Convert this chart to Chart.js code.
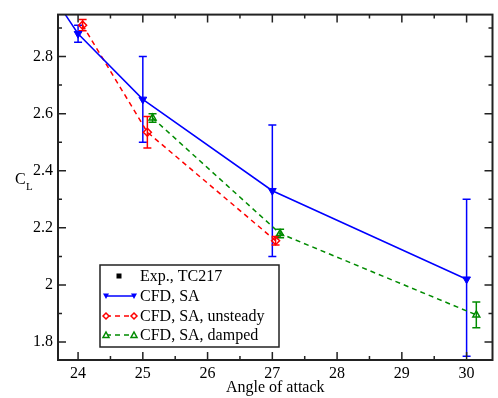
<!DOCTYPE html>
<html>
<head>
<meta charset="utf-8">
<script src="https://cdn.jsdelivr.net/npm/chart.js@4"></script>
<style>
  html, body { margin: 0; padding: 0; background: #fff; }
  #wrap { width: 498px; height: 398px; }
</style>
</head>
<body>
<div id="wrap"><canvas id="clChart" width="498" height="398"></canvas></div>
<script>
// tick labels
const xTicks = [24, 25, 26, 27, 28, 29, 30];
const yTicks = [1.8, 2.0, 2.2, 2.4, 2.6, 2.8];

// Exp., TC217 - nothing visible in the plot range
const expX = [];
const expY = [];

// CFD, SA (first point lies outside the plotted window)
const saX = [23, 24, 25, 27, 30];
const saY = [3.22, 2.88, 2.65, 2.33, 2.02];
const saLow = [null, 2.85, 2.50, 2.10, 1.75];
const saHigh = [null, 2.91, 2.80, 2.56, 2.30];

// CFD, SA, unsteady
const unsX = [24.07, 25.07, 27.05];
const unsY = [2.91, 2.535, 2.155];
const unsLow = [2.89, 2.48, 2.14];
const unsHigh = [2.93, 2.59, 2.17];

// CFD, SA, damped
const dmpX = [25.15, 27.12, 30.15];
const dmpY = [2.585, 2.18, 1.895];
const dmpLow = [2.57, 2.165, 1.85];
const dmpHigh = [2.60, 2.195, 1.94];

const FONT = "'Liberation Serif', 'DejaVu Serif', serif";
const BLUE = "#0000ff";
const RED = "#ff0000";
const GREEN = "#008b00";

function pts(xs, ys) {
  return xs.map((x, i) => ({ x: x, y: ys[i] }));
}

// error bars + frame + inward ticks + legend + y title
const gracePlugin = {
  id: "grace",
  beforeDatasetsDraw(chart) {
    const ctx = chart.ctx;
    const xs = chart.scales.x, ys = chart.scales.y;
    const a = chart.chartArea;
    ctx.save();
    ctx.beginPath();
    ctx.rect(a.left, a.top, a.right - a.left, a.bottom - a.top);
    ctx.clip();
    chart.data.datasets.forEach((ds) => {
      if (!ds.errLow) return;
      ctx.strokeStyle = ds.borderColor;
      ctx.lineWidth = 1.5;
      ctx.setLineDash([]);
      ds.data.forEach((p, i) => {
        const lo = ds.errLow[i], hi = ds.errHigh[i];
        if (lo == null) return;
        const px = xs.getPixelForValue(p.x);
        const y1 = ys.getPixelForValue(lo);
        const y2 = ys.getPixelForValue(hi);
        ctx.beginPath();
        ctx.moveTo(px, y1); ctx.lineTo(px, y2);
        ctx.moveTo(px - 4, y1); ctx.lineTo(px + 4, y1);
        ctx.moveTo(px - 4, y2); ctx.lineTo(px + 4, y2);
        ctx.stroke();
      });
    });
    ctx.restore();
  },
  afterDraw(chart) {
    const ctx = chart.ctx;
    const xs = chart.scales.x, ys = chart.scales.y;
    const a = chart.chartArea;
    ctx.save();
    ctx.strokeStyle = "#222";
    ctx.lineWidth = 2;
    ctx.setLineDash([]);
    ctx.strokeRect(a.left, a.top, a.right - a.left, a.bottom - a.top);

    ctx.lineWidth = 1.5;
    ctx.beginPath();
    for (let v = 23.5; v <= 30.5; v += 0.5) {
      const px = xs.getPixelForValue(v);
      if (px <= a.left || px >= a.right) continue;
      const len = Number.isInteger(v) ? 8 : 4;
      ctx.moveTo(px, a.bottom); ctx.lineTo(px, a.bottom - len);
      ctx.moveTo(px, a.top); ctx.lineTo(px, a.top + len);
    }
    for (let k = 17; k <= 29; k++) {
      const v = k / 10;
      const py = ys.getPixelForValue(v);
      if (py <= a.top || py >= a.bottom) continue;
      const len = k % 2 === 0 ? 8 : 4;
      ctx.moveTo(a.left, py); ctx.lineTo(a.left + len, py);
      ctx.moveTo(a.right, py); ctx.lineTo(a.right - len, py);
    }
    ctx.stroke();

    // y axis title C_L
    ctx.fillStyle = "#000";
    ctx.textBaseline = "middle";
    ctx.textAlign = "left";
    ctx.font = "16px " + FONT;
    ctx.fillText("C", 15, 180);
    ctx.font = "11px " + FONT;
    ctx.fillText("L", 26, 187);

    // legend box
    const lx = 100, ly = 265, lw = 179, lh = 82;
    ctx.fillStyle = "#fff";
    ctx.fillRect(lx, ly, lw, lh);
    ctx.strokeStyle = "#222";
    ctx.lineWidth = 1.5;
    ctx.strokeRect(lx, ly, lw, lh);
    const rowY = [276, 296, 316, 335];
    chart.data.datasets.forEach((ds, i) => {
      const y = rowY[i];
      ctx.strokeStyle = ds.borderColor;
      ctx.fillStyle = ds.borderColor;
      ctx.lineWidth = 1.5;
      if (ds.showLine) {
        ctx.setLineDash(ds.borderDash || []);
        ctx.beginPath();
        ctx.moveTo(106, y); ctx.lineTo(134, y);
        ctx.stroke();
        ctx.setLineDash([]);
        [106, 134].forEach((mx) => drawMark(ctx, ds, mx, y));
      } else {
        ctx.fillRect(116.5, y - 2.5, 5, 5);
      }
      ctx.fillStyle = "#000";
      ctx.font = "16px " + FONT;
      ctx.textAlign = "left";
      ctx.textBaseline = "middle";
      ctx.fillText(ds.label, 140, y + 1);
    });
    ctx.restore();
  },
};

function drawMark(ctx, ds, x, y) {
  const r = 3;
  ctx.beginPath();
  if (ds.pointStyle === "rectRot") {
    ctx.moveTo(x, y - r); ctx.lineTo(x + r, y); ctx.lineTo(x, y + r); ctx.lineTo(x - r, y);
    ctx.closePath();
    ctx.fillStyle = "#fff";
    ctx.fill();
    ctx.stroke();
  } else if (ds.pointRotation === 180) {
    ctx.moveTo(x - r, y - r * 0.8); ctx.lineTo(x + r, y - r * 0.8); ctx.lineTo(x, y + r);
    ctx.closePath();
    ctx.fill();
  } else {
    ctx.moveTo(x - r, y + r * 0.8); ctx.lineTo(x + r, y + r * 0.8); ctx.lineTo(x, y - r);
    ctx.closePath();
    ctx.fillStyle = "#fff";
    ctx.fill();
    ctx.stroke();
  }
}

new Chart(document.getElementById("clChart"), {
  type: "scatter",
  data: {
    datasets: [
      {
        label: "Exp., TC217",
        data: pts(expX, expY),
        borderColor: "#000",
        backgroundColor: "#000",
        pointStyle: "rect",
        pointRadius: 3,
        showLine: false,
      },
      {
        label: "CFD, SA",
        data: pts(saX, saY),
        errLow: saLow,
        errHigh: saHigh,
        borderColor: BLUE,
        backgroundColor: BLUE,
        borderWidth: 1.5,
        pointStyle: "triangle",
        pointRotation: 180,
        pointRadius: 4.5,
        pointBorderWidth: 1,
        showLine: true,
      },
      {
        label: "CFD, SA, unsteady",
        data: pts(unsX, unsY),
        errLow: unsLow,
        errHigh: unsHigh,
        borderColor: RED,
        backgroundColor: "rgba(255,255,255,0)",
        borderWidth: 1.5,
        borderDash: [5, 4],
        pointStyle: "rectRot",
        pointRadius: 4,
        pointBorderWidth: 1.5,
        showLine: true,
      },
      {
        label: "CFD, SA, damped",
        data: pts(dmpX, dmpY),
        errLow: dmpLow,
        errHigh: dmpHigh,
        borderColor: GREEN,
        backgroundColor: "rgba(255,255,255,0)",
        borderWidth: 1.5,
        borderDash: [5, 4],
        pointStyle: "triangle",
        pointRadius: 4,
        pointBorderWidth: 1.5,
        showLine: true,
      },
    ],
  },
  options: {
    responsive: false,
    animation: false,
    events: [],
    layout: { padding: { top: 7, right: 3, left: 0, bottom: 0 } },
    plugins: { legend: { display: false }, tooltip: { enabled: false } },
    scales: {
      x: {
        type: "linear",
        min: 23.69,
        max: 30.4,
        grid: { display: false, drawTicks: false, tickLength: 0 },
        border: { display: false },
        afterBuildTicks: (s) => { s.ticks = xTicks.map((v) => ({ value: v })); },
        afterFit: (s) => { s.height = 38; },
        ticks: { color: "#000", font: { family: FONT, size: 16 }, padding: 4, maxRotation: 0 },
        title: {
          display: true,
          text: "Angle of attack",
          color: "#000",
          font: { family: FONT, size: 16 },
          padding: { top: 0, bottom: 1 },
        },
      },
      y: {
        type: "linear",
        min: 1.737,
        max: 2.947,
        grid: { display: false, drawTicks: false, tickLength: 0 },
        border: { display: false },
        afterBuildTicks: (s) => { s.ticks = yTicks.map((v) => ({ value: v })); },
        afterFit: (s) => { s.width = 58; },
        ticks: {
          color: "#000",
          font: { family: FONT, size: 16 },
          padding: 5,
          callback: (v) => String(Number(v.toFixed(1))),
        },
      },
    },
  },
  plugins: [gracePlugin],
});
</script>
</body>
</html>
